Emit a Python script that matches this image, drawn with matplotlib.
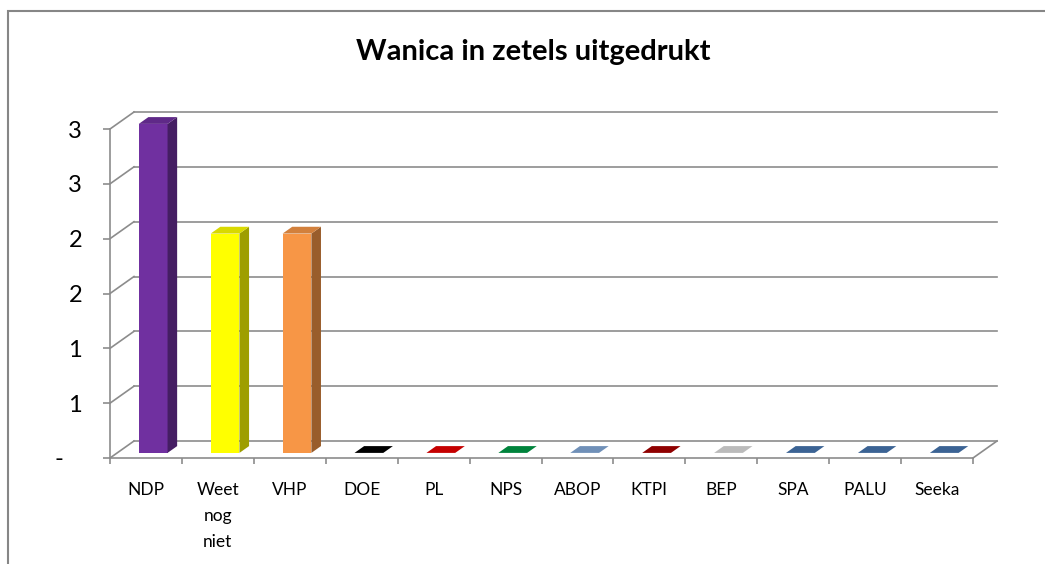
import matplotlib.pyplot as plt
from matplotlib.patches import Polygon, Rectangle
from matplotlib.colors import to_rgb

parties = ['NDP', 'Weet\nnog\nniet', 'VHP', 'DOE', 'PL', 'NPS', 'ABOP', 'KTPI',
           'BEP', 'SPA', 'PALU', 'Seeka']
seats = [3, 2, 2, 0, 0, 0, 0, 0, 0, 0, 0, 0]
colors = ['#7030A0', '#FFFF00', '#F79646', '#000000', '#E80000', '#009A47',
          '#84A9D8', '#A80000', '#DCDCDC', '#4575AE', '#4575AE', '#4575AE']
ytick_vals = [0, 0.5, 1, 1.5, 2, 2.5, 3]
ytick_labels = ['-   ', '1', '1', '2', '2', '3', '3']

plt.rcParams['font.family'] = ['Lato', 'DejaVu Sans']
GRID = '#8C8C8C'
W, H = 1045, 564

fig = plt.figure(figsize=(W / 100, H / 100), dpi=100, facecolor='white')
# outer chart frame (only top and left are inside the picture)
fig.patches.append(Rectangle((8 / W, -0.5), 1.5, 1.5 - 11 / H, transform=fig.transFigure,
                             fill=False, edgecolor='#868686', linewidth=1.5))
fig.text(533 / W, 1 - 52 / H, 'Wanica in zetels uitgedrukt', ha='center', va='center',
         fontsize=21, fontweight='bold')

x0, x1, yb, yt = 110, 973, 458, 129
ax = fig.add_axes([x0 / W, 1 - yb / H, (x1 - x0) / W, (yb - yt) / H])
n = len(parties)
ax.set_xlim(0, n)
ax.set_ylim(0, 3)

# depth of the pseudo-3D box, in data units
DX = 24 / ((x1 - x0) / n)
DY = 17 / ((yb - yt) / 3)

for s in ['top', 'right']:
    ax.spines[s].set_visible(False)
for s in ['left', 'bottom']:
    ax.spines[s].set_color(GRID)
    ax.spines[s].set_linewidth(1.2)

ax.set_yticks(ytick_vals, ytick_labels)
ax.tick_params(axis='y', length=5, width=1.2, color=GRID, pad=15, labelsize=17)
ax.set_xticks([i + 0.5 for i in range(n)], parties)
ax.set_xticks(range(n + 1), minor=True)
ax.tick_params(axis='x', which='major', length=0, pad=17, labelsize=12.5)
ax.tick_params(axis='x', which='minor', length=4.5, width=1.2, color=GRID)
for t in ax.get_xticklabels():
    t.set_linespacing(1.8)
    t.set_va('top')

# back wall gridlines and left wall slants
for y in ytick_vals:
    ax.plot([DX, n + DX], [y + DY, y + DY], color=GRID, lw=1.2, clip_on=False, zorder=1)
    ax.plot([0, DX], [y, y + DY], color=GRID, lw=1.2, clip_on=False, zorder=1)
# floor right edge
ax.plot([n, n + DX], [0, DY], color=GRID, lw=1.2, clip_on=False, zorder=1)

# bars
bw = 0.4
f1, f2 = 0.3, 0.7
b = f1 * DY
ddx, ddy = (f2 - f1) * DX, (f2 - f1) * DY
for i, (v, c) in enumerate(zip(seats, colors)):
    rgb = to_rgb(c)
    side = tuple(k * 0.62 for k in rgb)
    top = tuple(k * 0.85 for k in rgb)
    xl = i + 0.5 - bw / 2 + f1 * DX
    xr = xl + bw
    if v > 0:
        ax.bar(i + 0.5 + f1 * DX, v, width=bw, bottom=b, color=c, zorder=3, clip_on=False)
        ax.add_patch(Polygon([(xr, b), (xr + ddx, b + ddy), (xr + ddx, b + v + ddy), (xr, b + v)],
                             closed=True, facecolor=side, edgecolor='none', zorder=3, clip_on=False))
    ax.add_patch(Polygon([(xl, b + v), (xr, b + v), (xr + ddx, b + v + ddy), (xl + ddx, b + v + ddy)],
                         closed=True, facecolor=top, edgecolor='none', zorder=3, clip_on=False))

fig.savefig('out.png', dpi=100, facecolor='white')
